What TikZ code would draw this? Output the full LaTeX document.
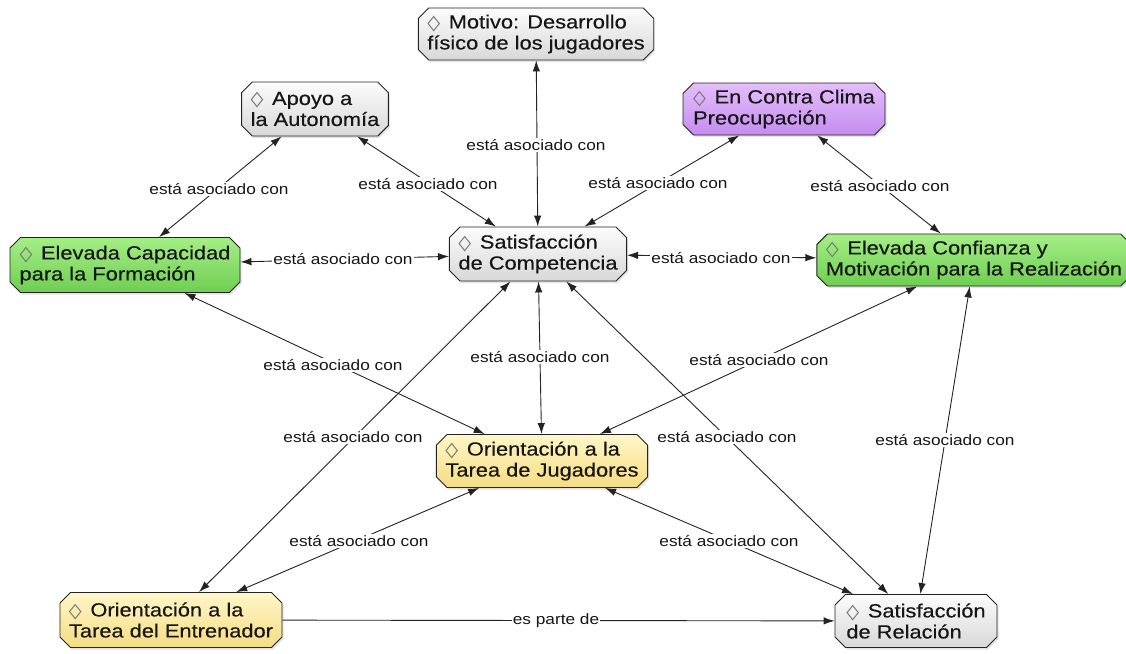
\documentclass[tikz,border=0pt]{standalone}
\usepackage{fontspec}
\setmainfont{Liberation Sans}[FakeStretch=1.15]
\newfontfamily\conceptfont{Liberation Sans}[FakeStretch=1.15, FakeBold=0.35]
\newfontfamily\markfont{DejaVu Sans}
\usetikzlibrary{shapes.misc,shadows,arrows.meta}

\definecolor{grayTop}{RGB}{252,252,252}
\definecolor{grayBot}{RGB}{216,216,216}
\definecolor{greenTop}{RGB}{165,238,135}
\definecolor{greenBot}{RGB}{110,206,80}
\definecolor{purpTop}{RGB}{228,190,252}
\definecolor{purpBot}{RGB}{196,140,238}
\definecolor{yelTop}{RGB}{255,247,200}
\definecolor{yelBot}{RGB}{245,220,130}
\definecolor{ink}{RGB}{22,22,22}
\definecolor{edgeline}{RGB}{35,35,35}
\definecolor{markgray}{RGB}{120,120,120}

% the small lozenge that opens every concept label
\newcommand{\lozmark}{{\markfont\color{markgray}\fontsize{18}{21}\selectfont
  \scalebox{1.45}[0.85]{◊}}\hspace{0.45em}}

\tikzset{
  concept/.style={chamfered rectangle, chamfered rectangle xsep=7pt,
    draw=edgeline, line width=0.9pt, align=left, text=ink,
    font=\conceptfont\fontsize{19}{21}\selectfont, inner sep=2pt,
    drop shadow={opacity=0.22, shadow xshift=1.5pt, shadow yshift=-2pt}},
  graybox/.style={concept, top color=grayTop, bottom color=grayBot},
  greenbox/.style={concept, top color=greenTop, bottom color=greenBot},
  purplebox/.style={concept, top color=purpTop, bottom color=purpBot},
  yellowbox/.style={concept, top color=yelTop, bottom color=yelBot},
  tip/.tip={Latex[length=11pt,width=7.5pt]},
  link/.style={draw=edgeline, line width=0.9pt, tip-tip},
  onelink/.style={draw=edgeline, line width=0.9pt, -tip},
  lbl/.style={font=\fontsize{15}{17}\selectfont, text=ink, fill=white, inner sep=1pt}
}

\begin{document}
\begin{tikzpicture}[x=1pt, y=-1pt]
\useasboundingbox (0,0) rectangle (1126,653);

% concepts
\node[graybox, minimum width=232pt, minimum height=52pt] (mot) at (536,34)
  {\lozmark Motivo: Desarrollo\\físico de los jugadores};
\node[graybox, minimum width=144pt, minimum height=54pt] (apo) at (315,109)
  {\lozmark Apoyo a\\la Autonomía};
\node[purplebox, minimum width=202pt, minimum height=52pt] (con) at (784,109)
  {\lozmark En Contra Clima\\Preocupación};
\node[graybox, minimum width=172pt, minimum height=54pt] (comp) at (538,254)
  {\lozmark Satisfacción\\de Competencia};
\node[greenbox, minimum width=230pt, minimum height=55pt] (cap) at (125,265)
  {\lozmark Elevada Capacidad\\para la Formación};
\node[greenbox, minimum width=300pt, minimum height=52pt] (conf) at (974,260)
  {\lozmark Elevada Confianza y\\Motivación para la Realización};
\node[yellowbox, minimum width=200pt, minimum height=53pt] (jug) at (542,461)
  {\lozmark Orientación a la\\Tarea de Jugadores};
\node[yellowbox, minimum width=217pt, minimum height=55pt] (ent) at (171,620)
  {\lozmark Orientación a la\\Tarea del Entrenador};
\node[graybox, minimum width=162pt, minimum height=53pt] (rel) at (916,621)
  {\lozmark Satisfacción\\de Relación};

% connectors
\draw[link] (mot) -- (comp);
\draw[link] (apo) -- (cap);
\draw[link] (apo) -- (comp);
\draw[link] (con) -- (comp);
\draw[link] (con) -- (conf);
\draw[link] (cap) -- (comp);
\draw[link] (comp) -- (conf);
\draw[link] (cap) -- (jug);
\draw[link] (comp) -- (jug);
\draw[link] (conf) -- (jug);
\draw[link] (comp) -- (ent);
\draw[link] (comp) -- (rel);
\draw[link] (conf) -- (rel);
\draw[link] (jug) -- (ent);
\draw[link] (jug) -- (rel);
\draw[onelink] (ent) -- (rel);

% connector labels
\node[lbl] (l1) at (536,145) {está asociado con};
\node[lbl] (l2) at (219,189) {está asociado con};
\node[lbl] (l3) at (428,184) {está asociado con};
\node[lbl] (l4) at (658,183) {está asociado con};
\node[lbl] (l5) at (880,186) {está asociado con};
\node[lbl] (l6) at (343,259) {está asociado con};
\node[lbl] (l7) at (721,258) {está asociado con};
\node[lbl] (l8) at (333,365) {está asociado con};
\node[lbl] (l9) at (540,357) {está asociado con};
\node[lbl] (l10) at (759,360) {está asociado con};
\node[lbl] (l11) at (353,437) {está asociado con};
\node[lbl] (l12) at (727,437) {está asociado con};
\node[lbl] (l13) at (945,440) {está asociado con};
\node[lbl] (l14) at (359,541) {está asociado con};
\node[lbl] (l15) at (729,541) {está asociado con};
\node[lbl] (l16) at (556,621) {es parte de};
\end{tikzpicture}
\end{document}
